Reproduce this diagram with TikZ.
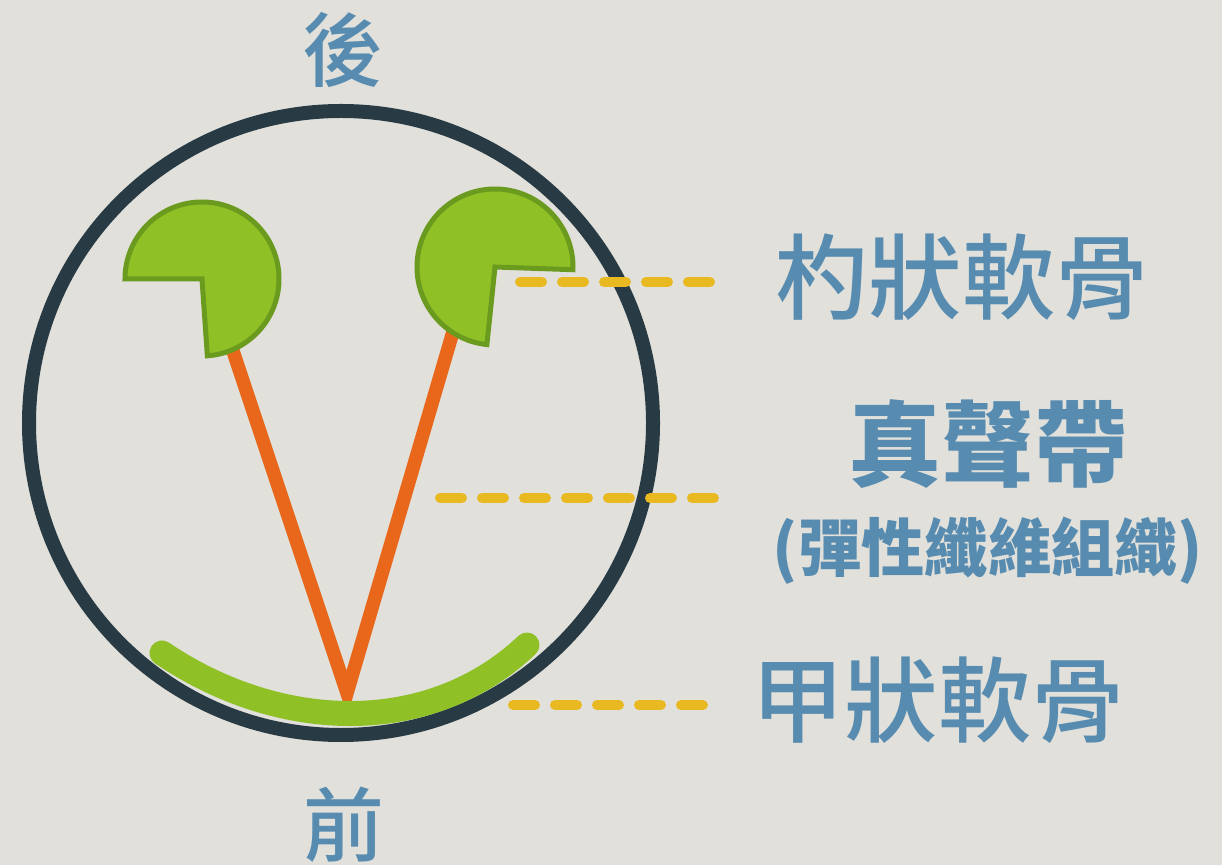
\documentclass[tikz,border=0pt]{standalone}
\usepackage{fontspec}
\newfontfamily\cjk{Noto Sans CJK TC}
\newfontfamily\cjkmed{Noto Sans CJK TC Medium}
\definecolor{paper}{HTML}{E1E0DB}
\definecolor{ringdark}{HTML}{283B44}
\definecolor{cartgreen}{HTML}{8FC126}
\definecolor{cartedge}{HTML}{6A9A1E}
\definecolor{foldorange}{HTML}{E8671A}
\definecolor{leaderyellow}{HTML}{E8B921}
\definecolor{labelblue}{HTML}{578CB0}

\begin{document}
\begin{tikzpicture}[x=0.02cm,y=0.02cm,
  cart/.style={fill=cartgreen,draw=cartedge,line width=0.1cm},
  fold/.style={draw=foldorange,line width=0.27cm},
  leader/.style={draw=leaderyellow,line width=0.2cm,line cap=round,dash pattern=on 0.44cm off 0.4cm},
  lbl/.style={text=labelblue,inner sep=0pt,font=\cjkmed\fontsize{53}{60}\selectfont},
  side/.style={lbl,font=\cjkmed\fontsize{46}{52}\selectfont}]
\fill[paper] (0,0) rectangle (1222,865);
\useasboundingbox (0,0) rectangle (1222,865);

\coordinate (ring) at (341,442);
\draw[ringdark,line width=0.28cm] (ring) circle [radius=312];

\coordinate (leftary) at (202,586);
\coordinate (rightary) at (495,598);
\coordinate (apex) at (347,172);
\coordinate (leftend) at (209,586);
\coordinate (rightend) at (472,598);
\draw[fold] (leftend) -- (apex) -- (rightend);

\draw[cart] (leftary) -- ++(-86:77) arc[start angle=-86,end angle=180,radius=77] -- cycle;
\draw[cart] (rightary) -- ++(-2:78) arc[start angle=-2,end angle=264,radius=78] -- cycle;

\coordinate (thyl) at (162,212);
\coordinate (thyr) at (527,220);
\draw[cartgreen,line width=0.5cm,line cap=round] (thyl) .. controls (280,132) and (430,128) .. (thyr);

\node[side] (back) at (343,815) {後};
\node[side] (front) at (344,40) {前};
\node[lbl] (arytenoid) at (962,588) {杓狀軟骨};
\node[lbl,font=\cjk\bfseries\fontsize{53}{60}\selectfont] (fold) at (988,421) {真聲帶};
\node[lbl,font=\cjk\bfseries\fontsize{36}{42}\selectfont] (tissue) at (988,314) {(彈性纖維組織)};
\node[lbl] (thyroid) at (938,165) {甲狀軟骨};

\coordinate (a1) at (520,583);
\coordinate (a2) at (710,583);
\coordinate (f1) at (440,367);
\coordinate (f2) at (714,367);
\coordinate (t1) at (513,160);
\coordinate (t2) at (703,160);
\draw[leader] (a1) -- (a2);
\draw[leader] (f1) -- (f2);
\draw[leader] (t1) -- (t2);
\end{tikzpicture}
\end{document}
